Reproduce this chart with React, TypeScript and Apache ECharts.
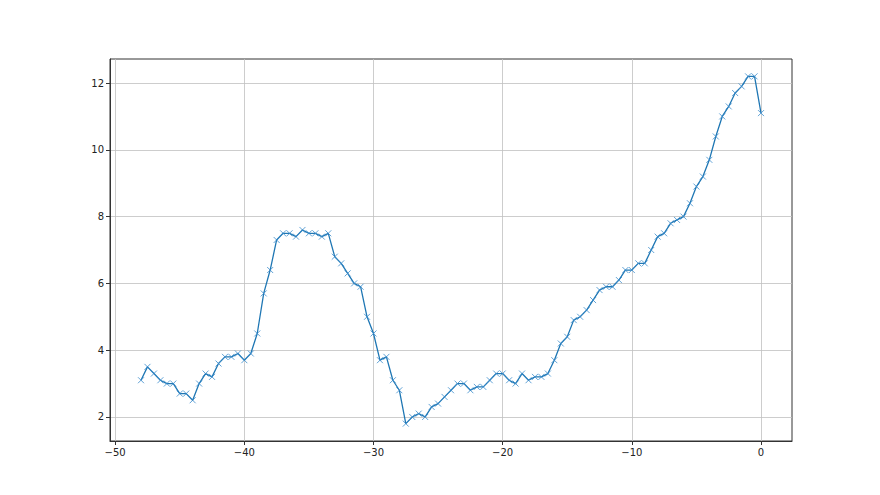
import React, { useEffect, useRef } from "react";
import * as echarts from "echarts";

const xValues: number[] = [
  -48, -47.5, -47, -46.5, -46, -45.5, -45, -44.5, -44, -43.5, -43, -42.5, -42, -41.5, -41, -40.5,
  -40, -39.5, -39, -38.5, -38, -37.5, -37, -36.5, -36, -35.5, -35, -34.5, -34, -33.5, -33, -32.5,
  -32, -31.5, -31, -30.5, -30, -29.5, -29, -28.5, -28, -27.5, -27, -26.5, -26, -25.5, -25, -24.5,
  -24, -23.5, -23, -22.5, -22, -21.5, -21, -20.5, -20, -19.5, -19, -18.5, -18, -17.5, -17, -16.5,
  -16, -15.5, -15, -14.5, -14, -13.5, -13, -12.5, -12, -11.5, -11, -10.5, -10, -9.5, -9, -8.5,
  -8, -7.5, -7, -6.5, -6, -5.5, -5, -4.5, -4, -3.5, -3, -2.5, -2, -1.5, -1, -0.5, 0,
];

const yValues: number[] = [
  3.1, 3.5, 3.3, 3.1, 3.0, 3.0, 2.7, 2.7, 2.5, 3.0, 3.3, 3.2, 3.6, 3.8, 3.8, 3.9,
  3.7, 3.9, 4.5, 5.7, 6.4, 7.3, 7.5, 7.5, 7.4, 7.6, 7.5, 7.5, 7.4, 7.5, 6.8, 6.6,
  6.3, 6.0, 5.9, 5.0, 4.5, 3.7, 3.8, 3.1, 2.8, 1.8, 2.0, 2.1, 2.0, 2.3, 2.4, 2.6,
  2.8, 3.0, 3.0, 2.8, 2.9, 2.9, 3.1, 3.3, 3.3, 3.1, 3.0, 3.3, 3.1, 3.2, 3.2, 3.3,
  3.7, 4.2, 4.4, 4.9, 5.0, 5.2, 5.5, 5.8, 5.9, 5.9, 6.1, 6.4, 6.4, 6.6, 6.6, 7.0,
  7.4, 7.5, 7.8, 7.9, 8.0, 8.4, 8.9, 9.2, 9.7, 10.4, 11.0, 11.3, 11.7, 11.9, 12.2, 12.2, 11.1,
];

const xTicks: number[] = [-50, -40, -30, -20, -10, 0];
const yTicks: number[] = [2, 4, 6, 8, 10, 12];

const fmt = (v: number) => String(v).replace("-", "\u2212");

export default function App() {
  const ref = useRef<HTMLDivElement>(null);
  useEffect(() => {
    if (!ref.current) return;
    const chart = echarts.init(ref.current, undefined, { renderer: "svg" });
    const data = xValues.map((x, i) => [x, yValues[i]]);
    const labelStyle = {
      color: "#222",
      fontFamily: "DejaVu Sans",
      fontSize: 10,
      margin: 6,
      formatter: (v: number) => fmt(v),
    };
    chart.setOption({
      animation: false,
      backgroundColor: "#fff",
      grid: {
        left: 110,
        right: 88,
        top: 59,
        bottom: 54,
        show: true,
        borderColor: "#333",
        borderWidth: 1,
        backgroundColor: "transparent",
      },
      xAxis: {
        type: "value",
        min: -50.4,
        max: 2.4,
        axisLine: { show: true, onZero: false, lineStyle: { color: "#333", width: 1 } },
        axisTick: { show: true, inside: false, length: 4, customValues: xTicks, lineStyle: { color: "#333" } },
        axisLabel: { ...labelStyle, customValues: xTicks },
        splitLine: { show: true, lineStyle: { color: "#c0c0c0", width: 0.8 } },
      },
      yAxis: {
        type: "value",
        min: 1.28,
        max: 12.72,
        axisLine: { show: true, onZero: false, lineStyle: { color: "#333", width: 1 } },
        axisTick: { show: true, inside: false, length: 4, customValues: yTicks, lineStyle: { color: "#333" } },
        axisLabel: { ...labelStyle, customValues: yTicks },
        splitLine: { show: true, lineStyle: { color: "#c0c0c0", width: 0.8 } },
      },
      series: [
        {
          type: "line",
          data,
          lineStyle: { color: "#1f77b4", width: 1.3 },
          symbol: "path://M0,0L10,10M10,0L0,10",
          symbolSize: 6,
          showSymbol: true,
          itemStyle: { color: "#1f77b4", borderColor: "#3a8ccc", borderWidth: 0.8 },
        },
      ],
    });
    return () => chart.dispose();
  }, []);
  return (
    <div
      ref={ref}
      style={{ position: "fixed", left: 0, top: 0, width: 880, height: 495 }}
    />
  );
}
